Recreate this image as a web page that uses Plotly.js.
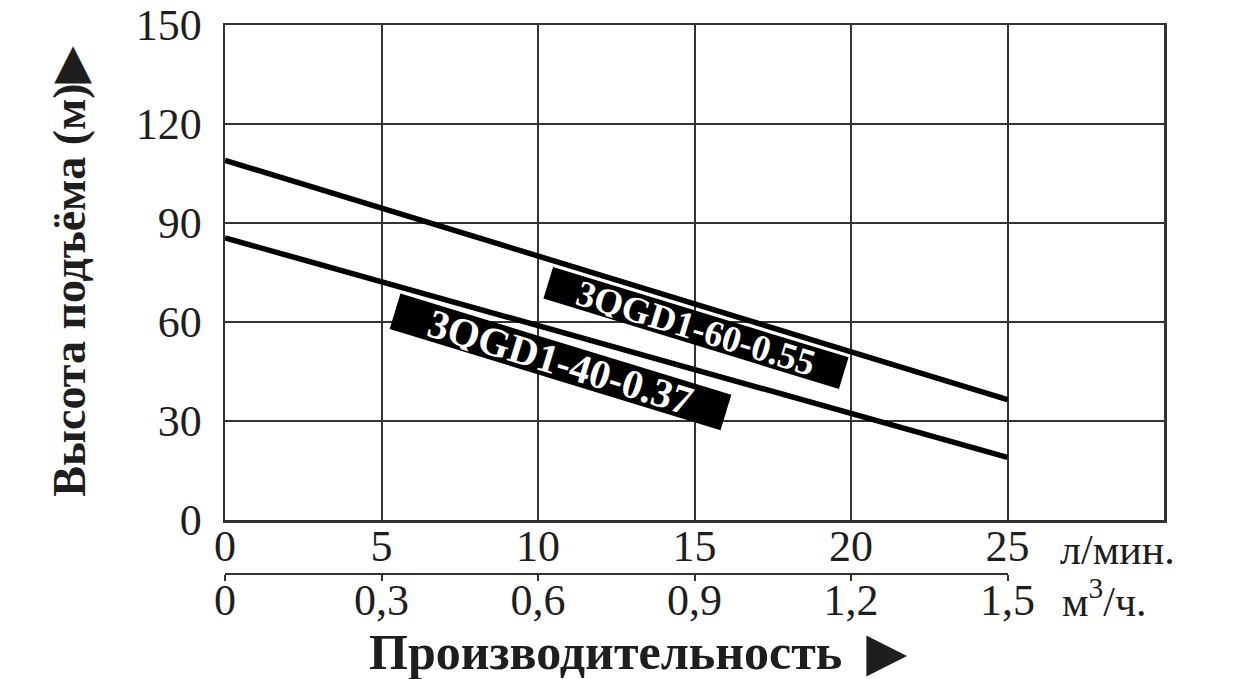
<!DOCTYPE html>
<html>
<head>
<meta charset="utf-8">
<script src="https://cdn.plot.ly/plotly-3.0.1.min.js"></script>
<style>
  html, body { margin: 0; padding: 0; background: #fff; }
  #myDiv { width: 1239px; height: 679px; }
</style>
</head>
<body>
<div id="myDiv"></div>
<script>
// flow, l/min
var flowLmin = [0, 25];
// head, m
var head60 = [109, 36.5];
var head40 = [85.5, 19];

var lminTicks = [0, 5, 10, 15, 20, 25];
var m3Ticks = [0, 0.3, 0.6, 0.9, 1.2, 1.5];
var m3Labels = ["0", "0,3", "0,6", "0,9", "1,2", "1,5"];
var headTicks = [0, 30, 60, 90, 120, 150];

var serif = "Liberation Serif, Times New Roman, serif";
var ink = "#1e1e1e";

line60 = {
    x: flowLmin,
    y: head60,
    mode: "lines",
    line: {color: "#000", width: 5.5},
    type: "scatter",
    hoverinfo: "skip"
};

line40 = {
    x: flowLmin,
    y: head40,
    mode: "lines",
    line: {color: "#000", width: 5.5},
    type: "scatter",
    hoverinfo: "skip"
};

// keeps the m3/h scale alive (own thin subplot under the chart)
m3axis = {
    x: m3Ticks,
    y: m3Ticks.map(function () { return 0; }),
    xaxis: "x2",
    yaxis: "y2",
    mode: "markers",
    marker: {opacity: 0},
    type: "scatter",
    hoverinfo: "skip"
};

Plotly.newPlot('myDiv', {
    "data": [line60, line40, m3axis],
    "layout": {
        width: 1239,
        height: 679,
        showlegend: false,
        paper_bgcolor: "#fff",
        plot_bgcolor: "rgba(0,0,0,0)",
        margin: {l: 225, r: 75, t: 25, b: 20},
        font: {family: serif, color: ink},
        xaxis: {
            range: [0, 30],
            tickvals: lminTicks,
            showgrid: true,
            gridcolor: "#333",
            gridwidth: 2,
            showline: true,
            linecolor: "#333",
            linewidth: 2.5,
            mirror: true,
            zeroline: false,
            ticks: "",
            ticklabelstandoff: -14,
            tickfont: {family: serif, size: 44, color: ink},
            fixedrange: true
        },
        yaxis: {
            range: [0, 150],
            domain: [0.2192, 1],
            tickvals: headTicks,
            showgrid: true,
            gridcolor: "#333",
            gridwidth: 2,
            showline: true,
            linecolor: "#333",
            linewidth: 2.5,
            mirror: true,
            zeroline: false,
            ticks: "",
            ticklabelstandoff: 12,
            tickfont: {family: serif, size: 44, color: ink},
            title: {
                text: "Высота подъёма (м)▶",
                font: {family: serif, size: 46, color: ink, weight: "bold"},
                standoff: 36
            },
            fixedrange: true
        },
        xaxis2: {
            range: [0, 1.5],
            domain: [0, 25 / 30],
            anchor: "y2",
            tickvals: m3Ticks,
            ticktext: m3Labels,
            showgrid: false,
            zeroline: false,
            showline: true,
            linecolor: "#333",
            linewidth: 2,
            ticks: "outside",
            ticklen: 6,
            tickwidth: 2,
            tickcolor: "#333",
            ticklabelstandoff: -19,
            tickfont: {family: serif, size: 44, color: ink},
            fixedrange: true
        },
        yaxis2: {
            domain: [0.1356, 0.15],
            range: [0, 1],
            anchor: "x2",
            visible: false,
            fixedrange: true
        },
        annotations: [
            {
                xref: "x", yref: "y", x: 15.05, y: 58.2,
                text: "<b>3QGD1-60-0.55</b>",
                showarrow: false, textangle: 17,
                width: 306, height: 30,
                bgcolor: "#000",
                font: {family: serif, size: 37, color: "#fff"},
                xanchor: "center", yanchor: "middle"
            },
            {
                xref: "x", yref: "y", x: 10.73, y: 47.9,
                text: "<b>3QGD1-40-0.37</b>",
                showarrow: false, textangle: 17,
                width: 343, height: 34,
                bgcolor: "#000",
                font: {family: serif, size: 41, color: "#fff"},
                xanchor: "center", yanchor: "middle"
            },
            {
                xref: "x", yref: "paper", x: 25, y: 0.172,
                text: "л/мин.",
                showarrow: false, xanchor: "left", yanchor: "middle", xshift: 50,
                font: {family: serif, size: 42, color: ink}
            },
            {
                xref: "x", yref: "paper", x: 25, y: 0.095,
                text: "м<sup>3</sup>/ч.",
                showarrow: false, xanchor: "left", yanchor: "middle", xshift: 52,
                font: {family: serif, size: 42, color: ink}
            },
            {
                xref: "paper", yref: "paper", x: 0.44, y: 0.011,
                text: "<b>Производительность  ▶</b>",
                showarrow: false, xanchor: "center", yanchor: "middle",
                font: {family: serif, size: 50, color: ink}
            }
        ],
        hovermode: false
    },
    "config": {
        displayModeBar: false,
        staticPlot: true
    }
});
</script>
</body>
</html>
